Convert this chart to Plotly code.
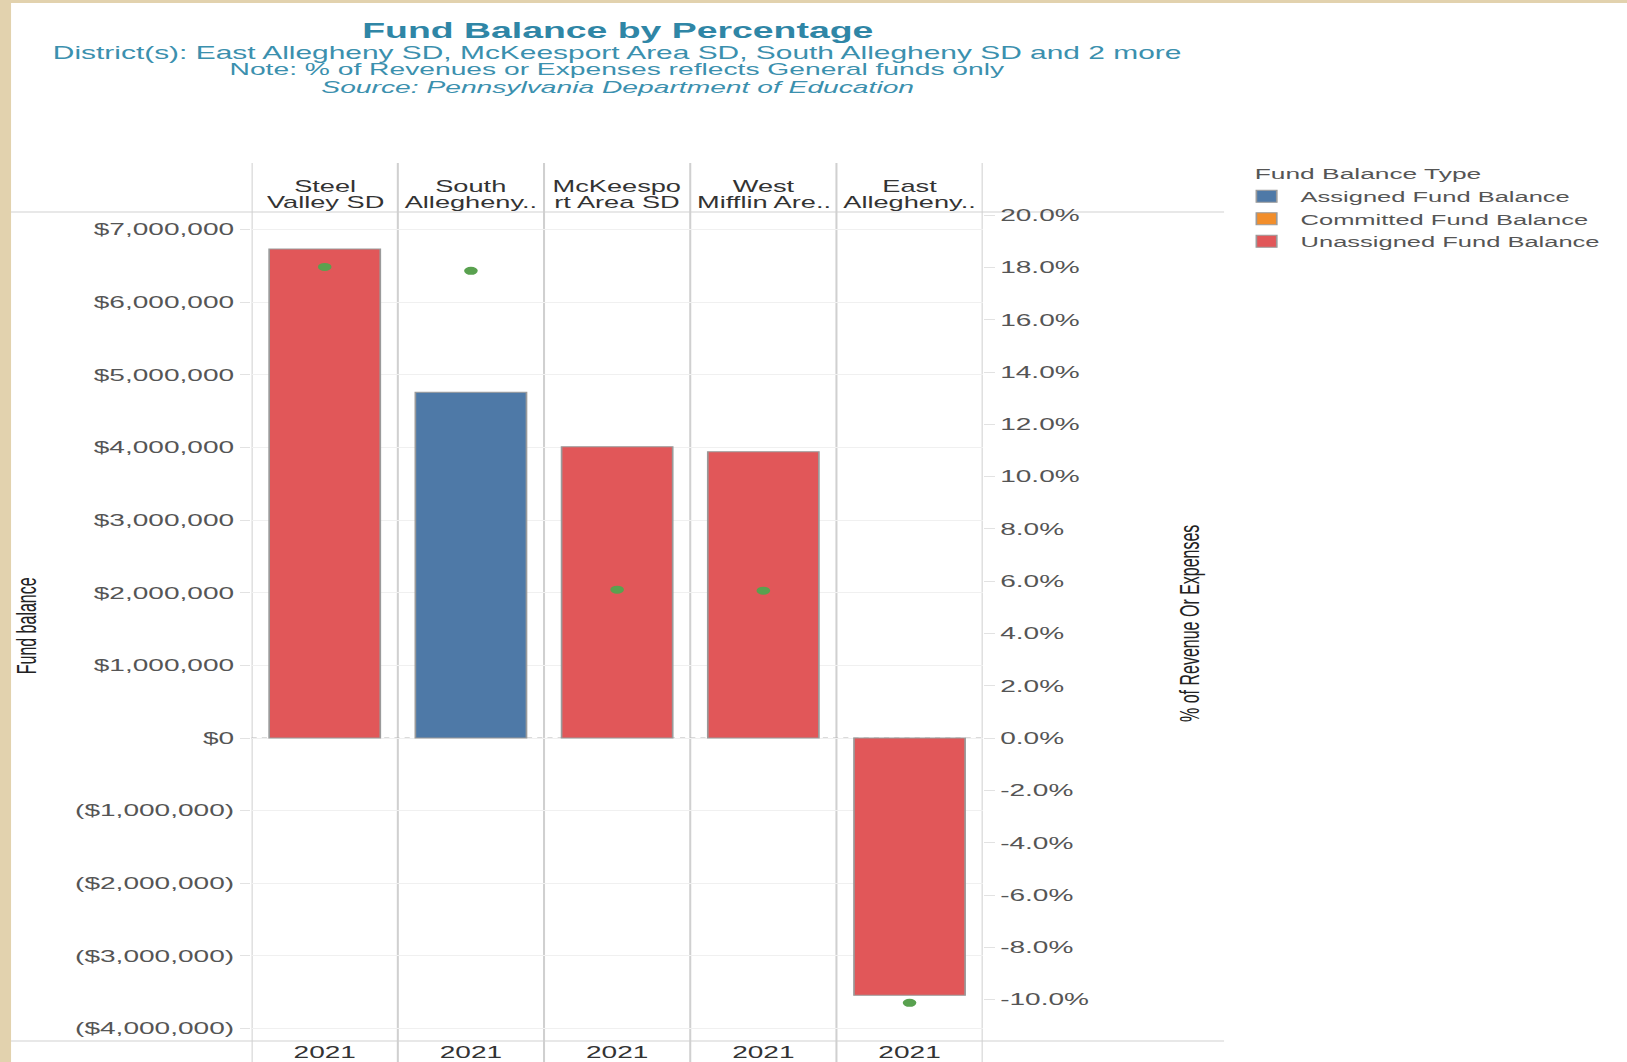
import plotly.graph_objects as go

# ---------------- data ----------------
districts = ["Steel Valley SD", "South Allegheny SD", "McKeesport Area SD",
             "West Mifflin Area SD", "East Allegheny SD"]
header_line1 = ["Steel", "South", "McKeespo", "West", "East"]
header_line2 = ["Valley SD", "Allegheny..", "rt Area SD", "Mifflin Are..", "Allegheny.."]
years = ["2021", "2021", "2021", "2021", "2021"]

fund_types = ["Assigned Fund Balance", "Committed Fund Balance", "Unassigned Fund Balance"]
assigned = [None, 4760000, None, None, None]
committed = [None, None, None, None, None]
unassigned = [6730000, None, 4010000, 3940000, -3540000]
pct_rev_exp = [0.1802, 0.1787, 0.0568, 0.0564, -0.1012]

left_tick_values = [-4000000, -3000000, -2000000, -1000000, 0, 1000000, 2000000,
                    3000000, 4000000, 5000000, 6000000, 7000000]
right_tick_values = [-0.10, -0.08, -0.06, -0.04, -0.02, 0.0, 0.02, 0.04, 0.06,
                     0.08, 0.10, 0.12, 0.14, 0.16, 0.18, 0.20]

title_text = "Fund Balance by Percentage"
subtitle_text = "District(s): East Allegheny SD, McKeesport Area SD, South Allegheny SD and 2 more"
note_text = "Note: % of Revenues or Expenses reflects General funds only"
source_text = "<i>Source: Pennsylvania Department of Education</i>"
legend_title = "Fund Balance Type"
left_axis_title = "Fund balance"
right_axis_title = "% of Revenue Or Expenses"

# ---------------- style ----------------
FONT = "Liberation Sans, Arial, Helvetica, sans-serif"
COLORS = {"Assigned Fund Balance": "#4e79a7",
          "Committed Fund Balance": "#f28e2b",
          "Unassigned Fund Balance": "#e15759"}
TEAL = "#2f86a6"
SUB = "#3b90ae"
W, H = 957, 1062
STRETCH = 1627 / W
ML, MR, MT, MB = 148, 379, 212, 21
PW = W - ML - MR
PH = H - MT - MB


def px(u):
    return (u - ML) / PW


def py(y):
    return (H - MB - y) / PH


def money(v):
    s = "${:,.0f}".format(abs(v))
    return "(" + s + ")" if v < 0 else s


def pct(v):
    return "{:.1f}%".format(v * 100 + 0.0)


fig = go.Figure()
for name, vals in zip(fund_types, [assigned, committed, unassigned]):
    fig.add_trace(go.Bar(
        x=districts, y=vals, name=name,
        marker=dict(color=COLORS[name], line=dict(color="#9a9a9a", width=1)),
    ))

fig.add_trace(go.Scatter(
    x=districts, y=pct_rev_exp, yaxis="y2", mode="markers",
    marker=dict(color="#59a14f", size=8), showlegend=False,
))

shapes = []
# beige frame strips
shapes.append(dict(type="rect", xref="paper", yref="paper", x0=px(0), x1=px(6.5),
                   y0=py(H), y1=py(0), fillcolor="#e2d2ae", line=dict(width=0), layer="above"))
shapes.append(dict(type="rect", xref="paper", yref="paper", x0=px(0), x1=px(W),
                   y0=py(3), y1=py(0), fillcolor="#e2d2ae", line=dict(width=0), layer="above"))
# header / footer horizontal rules
for yy in (0, 1):
    shapes.append(dict(type="line", xref="paper", yref="paper", x0=px(6.5), x1=px(720),
                       y0=yy, y1=yy, line=dict(color="#d2d2d2", width=1.2), layer="below"))
# panel dividers
for i in range(len(districts) + 1):
    shapes.append(dict(type="line", xref="x", yref="paper", x0=i - 0.5, x1=i - 0.5,
                       y0=py(H), y1=py(163), line=dict(color="#d0d0d0", width=1.2),
                       layer="below"))
# zero reference line (dotted)
shapes.append(dict(type="line", xref="paper", yref="y", x0=0, x1=1, y0=0, y1=0,
                   line=dict(color="#b5b5b5", width=1, dash="dot"), layer="below"))

annotations = []
annotations.append(dict(text="<b>" + title_text + "</b>", xref="paper", yref="paper",
                        x=0.5, y=py(30.5), showarrow=False, yanchor="middle",
                        font=dict(size=22, color=TEAL, family=FONT)))
annotations.append(dict(text=subtitle_text, xref="paper", yref="paper",
                        x=0.5, y=py(53), showarrow=False, yanchor="middle",
                        font=dict(size=17.6, color=SUB, family=FONT)))
annotations.append(dict(text=note_text, xref="paper", yref="paper",
                        x=0.5, y=py(70), showarrow=False, yanchor="middle",
                        font=dict(size=16.6, color=SUB, family=FONT)))
annotations.append(dict(text=source_text, xref="paper", yref="paper",
                        x=0.5, y=py(87.5), showarrow=False, yanchor="middle",
                        font=dict(size=16.6, color=SUB, family=FONT)))
for d, l1, l2 in zip(districts, header_line1, header_line2):
    annotations.append(dict(text=l1, xref="x", yref="paper", x=d, y=py(186),
                            showarrow=False, yanchor="middle",
                            font=dict(size=16, color="#333333", family=FONT)))
    annotations.append(dict(text=l2, xref="x", yref="paper", x=d, y=py(202),
                            showarrow=False, yanchor="middle",
                            font=dict(size=16, color="#333333", family=FONT)))
annotations.append(dict(text=left_axis_title, xref="paper", yref="paper",
                        x=px(15.3), y=py(626), showarrow=False, textangle=-90,
                        xanchor="center", yanchor="middle",
                        font=dict(size=16, color="#222222", family=FONT)))
annotations.append(dict(text=right_axis_title, xref="paper", yref="paper",
                        x=px(699), y=py(624), showarrow=False, textangle=-90,
                        xanchor="center", yanchor="middle",
                        font=dict(size=16, color="#222222", family=FONT)))
annotations.append(dict(text=legend_title, xref="paper", yref="paper",
                        x=px(736), y=py(173), showarrow=False,
                        xanchor="left", yanchor="middle",
                        font=dict(size=15.5, color="#555555", family=FONT)))

fig.update_layout(
    width=W, height=H,
    margin=dict(l=ML, r=MR, t=MT, b=MB, pad=0, autoexpand=False),
    paper_bgcolor="white", plot_bgcolor="white",
    barmode="relative", bargap=0.24,
    font=dict(family=FONT, size=16, color="#555555"),
    shapes=shapes, annotations=annotations,
    xaxis=dict(categoryorder="array", categoryarray=districts,
               range=[-0.5, len(districts) - 0.5],
               tickvals=districts, ticktext=years, ticks="", showgrid=False,
               showline=False, zeroline=False, automargin=False,
               tickfont=dict(size=16.5, color="#333333")),
    yaxis=dict(range=[-4170000, 7240000], tickvals=left_tick_values,
               ticktext=[money(v) for v in left_tick_values],
               ticks="outside", ticklen=6, tickcolor="#e2e2e2",
               showgrid=True, gridcolor="#f0f0f0", gridwidth=1,
               zeroline=False, showline=False, automargin=False,
               tickfont=dict(size=16.5, color="#555555")),
    yaxis2=dict(overlaying="y", side="right", range=[-0.1158, 0.2012],
                tickvals=right_tick_values,
                ticktext=[pct(v) for v in right_tick_values],
                ticks="outside", ticklen=6, tickcolor="#e2e2e2",
                showgrid=False, zeroline=False, showline=False, automargin=False,
                tickfont=dict(size=16.5, color="#555555")),
    legend=dict(x=px(725), y=py(180), xanchor="left", yanchor="top",
                font=dict(size=15, color="#555555"), traceorder="normal",
                bgcolor="rgba(0,0,0,0)", tracegroupgap=0),
    showlegend=True,
)

post = """
document.documentElement.style.overflow='hidden';
document.body.style.margin='0';
document.body.style.overflow='hidden';
var gd=document.getElementById('{plot_id}');
gd.style.transformOrigin='0 0';
gd.style.transform='scaleX(%.5f)';
""" % STRETCH

fig.write_html("out.html", config={"displayModeBar": False}, post_script=post)
